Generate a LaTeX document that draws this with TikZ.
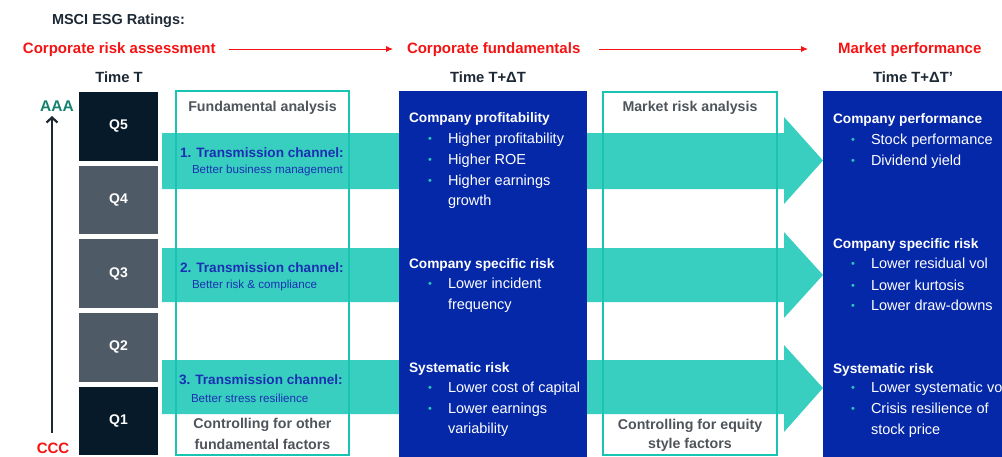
\documentclass[tikz,border=0pt]{standalone}
\usepackage{fontspec}
\setmainfont{Liberation Sans}
\usetikzlibrary{arrows.meta}
\definecolor{navy}{RGB}{6,26,42}
\definecolor{slate}{RGB}{78,91,102}
\definecolor{bandcol}{RGB}{56,207,192}
\definecolor{frameteal}{RGB}{26,196,178}
\definecolor{boxblue}{RGB}{5,40,168}
\definecolor{chanblue}{RGB}{26,48,178}
\definecolor{darktxt}{RGB}{28,40,52}
\definecolor{greytxt}{RGB}{78,84,90}
\definecolor{redhead}{RGB}{245,18,18}
\definecolor{aaateal}{RGB}{18,128,108}
\definecolor{bulletcol}{RGB}{40,200,185}
\newcommand{\fsz}[1]{\fontsize{#1}{#1}\selectfont}
\begin{document}
\begin{tikzpicture}[x=1pt,y=-1pt,
  every node/.style={inner sep=0pt, outer sep=0pt},
  maintitle/.style={font=\bfseries\fsz{14.5}, text=darktxt, anchor=west},
  redhead/.style={font=\bfseries\fsz{15}, text=redhead, anchor=west, text height=11pt, text depth=3pt},
  redarrow/.style={draw=redhead, line width=0.9pt, -{Latex[length=7pt,width=6pt]}},
  timelbl/.style={font=\bfseries\fsz{14.8}, text=darktxt},
  qbox/.style={anchor=north west, minimum width=79pt, minimum height=68.5pt, text=white, font=\bfseries\fsz{14}},
  band/.style={fill=bandcol},
  frame/.style={draw=frameteal, line width=2pt, anchor=north west},
  bluebox/.style={fill=boxblue, anchor=north west},
  greyhead/.style={font=\bfseries\fsz{14.2}, text=greytxt},
  chan/.style={font=\bfseries\fsz{13.6}, text=chanblue, anchor=west},
  chansub/.style={font=\fsz{11.6}, text=chanblue, anchor=west},
  bhead/.style={font=\bfseries\fsz{13.7}, text=white, anchor=west, text height=10.5pt, text depth=3pt, yshift=-1.5pt},
  bitem/.style={font=\fsz{14.5}, text=white, anchor=west, text height=10.5pt, text depth=3pt, yshift=-1.5pt},
  bul/.style={font=\fsz{11}, text=bulletcol, yshift=-2pt},
  axis/.style={draw=darktxt, line width=2.2pt, -{Straight Barb[length=5pt,width=11pt]}}
]
\useasboundingbox (0,0) rectangle (1002,456);
\clip (0,0) rectangle (1002,456);

% titles
\node[maintitle] (msci) at (52,21) {MSCI ESG Ratings:};
\node[redhead] (h1) at (23,49) {Corporate risk assessment};
\node[redhead] (h2) at (407,49) {Corporate fundamentals};
\node[redhead] (h3) at (838,49) {Market performance};
\draw[redarrow, shorten <=13pt, shorten >=14pt] (h1.east) -- (h2.west);
\draw[redarrow, shorten <=19pt, shorten >=30pt] (h2.east) -- (h3.west);

\node[timelbl] (t1) at (119,77) {Time T};
\node[timelbl] (t2) at (488,77) {Time T+ΔT};
\node[timelbl] (t3) at (913,77) {Time T+ΔT’};

% rating axis
\node[font=\bfseries\fsz{15.5}, text=aaateal] (aaa) at (57,106) {AAA};
\node[font=\bfseries\fsz{15}, text=redhead] (ccc) at (53,448) {CCC};
\coordinate (axbot) at (52,433);
\coordinate (axtop) at (52,116);
\draw[axis] (axbot) -- (axtop);

% quintile boxes
\node[qbox, fill=navy]  (q5) at (79,92)    {Q5};
\node[qbox, fill=slate] (q4) at (79,165.7) {Q4};
\node[qbox, fill=slate] (q3) at (79,239.4) {Q3};
\node[qbox, fill=slate] (q2) at (79,313.1) {Q2};
\node[qbox, fill=navy]  (q1) at (79,386.8) {Q1};

% transmission bands (block arrows)
\fill[band] (162,133) -- (784,133) -- (784,117) -- (823,160.5) -- (784,204) -- (784,189) -- (162,189) -- cycle;
\fill[band] (162,248) -- (784,248) -- (784,232) -- (823,275) -- (784,318) -- (784,302) -- (162,302) -- cycle;
\fill[band] (162,360) -- (784,360) -- (784,345) -- (823,388) -- (784,432) -- (784,414) -- (162,414) -- cycle;

% analysis frames
\node[frame, minimum width=173pt, minimum height=364pt] (fa) at (176,91) {};
\node[frame, minimum width=174pt, minimum height=363pt] (mra) at (603,92) {};
\node[greyhead] (fat) at (262.5,108) {Fundamental analysis};
\node[greyhead] (fab1) at (262.5,425) {Controlling for other};
\node[greyhead] (fab2) at (262.5,444) {fundamental factors};
\node[greyhead] (mrt) at (690,108) {Market risk analysis};
\node[greyhead] (mrb1) at (690,426) {Controlling for equity};
\node[greyhead] (mrb2) at (690,445) {style factors};

% channel labels
\node[chan] (c1) at (180,153) {1. Transmission channel:};
\node[chansub] (c1s) at (192,170) {Better business management};
\node[chan] (c2) at (180,268) {2. Transmission channel:};
\node[chansub] (c2s) at (192,285) {Better risk \& compliance};
\node[chan] (c3) at (179,380) {3. Transmission channel:};
\node[chansub] (c3s) at (191,398) {Better stress resilience};

% blue boxes
\node[bluebox, minimum width=188pt, minimum height=370pt] (cf) at (399,91) {};
\node[bluebox, minimum width=190pt, minimum height=370pt] (mp) at (823,91) {};

% corporate fundamentals content
\node[bhead] (l1) at (409,117) {Company profitability};
\node[bul] at (430,138) {•}; \node[bitem] (l1a) at (448,138) {Higher profitability};
\node[bul] at (430,159) {•}; \node[bitem] (l1b) at (448,159) {Higher ROE};
\node[bul] at (430,180) {•}; \node[bitem] (l1c) at (448,180) {Higher earnings};
\node[bitem] (l1d) at (448,200) {growth};
\node[bhead] (l2) at (409,263) {Company specific risk};
\node[bul] at (430,283) {•}; \node[bitem] (l2a) at (448,283) {Lower incident};
\node[bitem] (l2b) at (448,304) {frequency};
\node[bhead] (l3) at (409,367) {Systematic risk};
\node[bul] at (430,387) {•}; \node[bitem] (l3a) at (448,387) {Lower cost of capital};
\node[bul] at (430,408) {•}; \node[bitem] (l3b) at (448,408) {Lower earnings};
\node[bitem] (l3c) at (448,428) {variability};

% market performance content
\node[bhead] (r1) at (833,118) {Company performance};
\node[bul] at (853,139) {•}; \node[bitem] (r1a) at (871,139) {Stock performance};
\node[bul] at (853,160) {•}; \node[bitem] (r1b) at (871,160) {Dividend yield};
\node[bhead] (r2) at (833,243) {Company specific risk};
\node[bul] at (853,263) {•}; \node[bitem] (r2a) at (871,263) {Lower residual vol};
\node[bul] at (853,285) {•}; \node[bitem] (r2b) at (871,285) {Lower kurtosis};
\node[bul] at (853,305) {•}; \node[bitem] (r2c) at (871,305) {Lower draw-downs};
\node[bhead] (r3) at (833,368) {Systematic risk};
\node[bul] at (853,387) {•}; \node[bitem] (r3a) at (871,387) {Lower systematic vol};
\node[bul] at (853,408) {•}; \node[bitem] (r3b) at (871,408) {Crisis resilience of};
\node[bitem] (r3c) at (871,429) {stock price};
\end{tikzpicture}
\end{document}
